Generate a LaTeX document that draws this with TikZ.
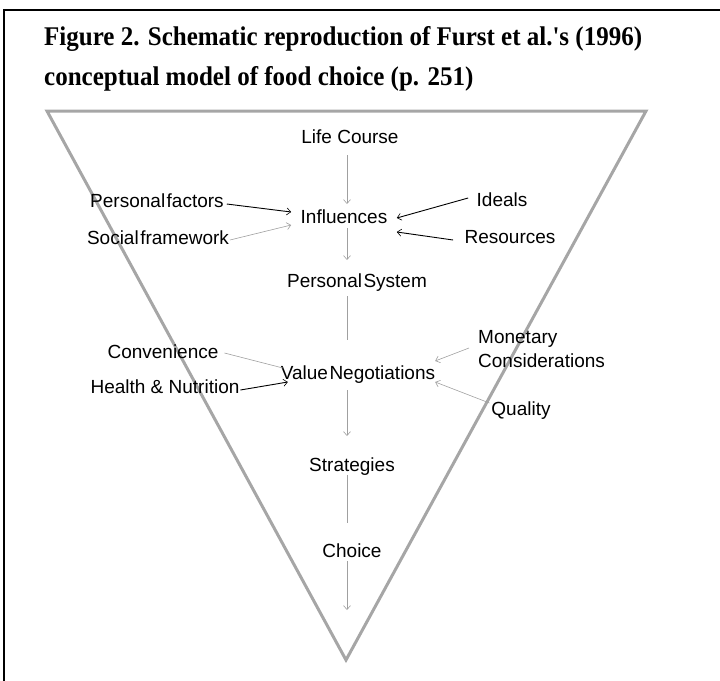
\documentclass[tikz,border=0pt]{standalone}
\usepackage{fontspec}
\usepackage{graphicx}
\setmainfont{Liberation Sans}
\newfontfamily\titlefont{Liberation Serif}
\usetikzlibrary{arrows.meta,calc}
\definecolor{trigray}{HTML}{A6A6A6}
\definecolor{linegray}{HTML}{A0A0A0}
\newcommand{\narrow}[1]{\scalebox{0.926}[1]{#1}}
\begin{document}
\begin{tikzpicture}[x=1pt,y=-1pt,
  lbl/.style={inner sep=0pt, outer sep=0pt, anchor=base,
    font=\fontsize{19}{23}\selectfont, text height=14pt, text depth=4pt},
  glink/.style={draw=linegray, line width=0.6pt},
  dlink/.style={draw=black, line width=0.9pt},
  tip/.style={-{Straight Barb[length=4pt,width=7pt,line width=0.6pt]}},
]
\useasboundingbox (0,0) rectangle (720,680);
\clip (0,0) rectangle (720,680);
% figure frame (cut off at right and bottom)
\draw[line width=2pt] (4,700) -- (4,10) -- (730,10);
% title
\node[anchor=north west, inner sep=0pt, align=left,
  font=\titlefont\bfseries\fontsize{27}{40}\selectfont] (title) at (44,26)
  {\narrow{Figure 2. Schematic reproduction of Furst et al.'s (1996)}\\\narrow{conceptual model of food choice (p. 251)}};
% funnel
\draw[trigray, line width=3pt, line join=miter] (47,111) -- (646,111) -- (346,660) -- cycle;
% nodes
\coordinate (spine) at (347,0);
\node[lbl] (lifecourse) at (350,143) {Life Course};
\node[lbl] (influences) at (344,223) {Influences};
\node[lbl] (personalsystem) at (357,287) {Personal\hspace{1.5pt}System};
\node[lbl] (valueneg) at (358,379) {Value\hspace{1.5pt}Negotiations};
\node[lbl] (strategies) at (352,471) {Strategies};
\node[lbl] (choice) at (352,557) {Choice};
\node[lbl] (personalfactors) at (157,207) {Personal\hspace{1.5pt}factors};
\node[lbl] (socialframework) at (158,244) {Social\hspace{1.5pt}framework};
\node[lbl] (ideals) at (502,206) {Ideals};
\node[lbl] (resources) at (510,243) {Resources};
\node[lbl] (convenience) at (163,358) {Convenience};
\node[lbl] (health) at (165,393) {Health \& Nutrition};
\node[inner sep=0pt, anchor=west, align=left, font=\fontsize{19}{24}\selectfont]
  (monetary) at (478,349) {Monetary\\Considerations};
\node[lbl] (quality) at (521,415) {Quality};
\coordinate (chainend) at (347,610);
% main chain
\draw[glink, tip, shorten <=8pt, shorten >=5pt] (lifecourse.south -| spine) -- (influences.north -| spine);
\draw[glink, tip, shorten <=1pt, shorten >=13pt] (influences.south -| spine) -- (personalsystem.north -| spine);
\draw[glink, shorten <=5pt, shorten >=25pt] (personalsystem.south -| spine) -- (valueneg.north -| spine);
\draw[glink, tip, shorten <=7pt, shorten >=21pt] (valueneg.south -| spine) -- (strategies.north -| spine);
\draw[glink, shorten >=20pt] (strategies.south -| spine) -- (choice.north -| spine);
\draw[glink, tip] (choice.south -| spine) -- (chainend);
% influences
\draw[dlink, tip] ($(personalfactors.east)+(3,2)$) -- ($(influences.west)+(-9.5,-6)$);
\draw[glink, tip] ($(socialframework.east)+(1,1)$) -- ($(influences.west)+(-9.5,7)$);
\draw[dlink, tip] ($(ideals.west)+(-8.5,-3)$) -- ($(influences.east)+(9.5,0)$);
\draw[dlink, tip] ($(resources.west)+(-11.5,2)$) -- ($(influences.east)+(9.5,14)$);
% value negotiations
\draw[glink] ($(convenience.east)+(6,0)$) -- ($(valueneg.west)+(2,-6)$);
\draw[dlink, tip] ($(health.east)+(1,2)$) -- ($(valueneg.west)+(7,8)$);
\draw[glink, tip] ($(monetary.west)+(-9,-1)$) -- ($(valueneg.east)+(0,-13)$);
\draw[glink, tip] ($(quality.west)+(-2,-7)$) -- ($(valueneg.east)+(0,8)$);
\end{tikzpicture}
\end{document}
